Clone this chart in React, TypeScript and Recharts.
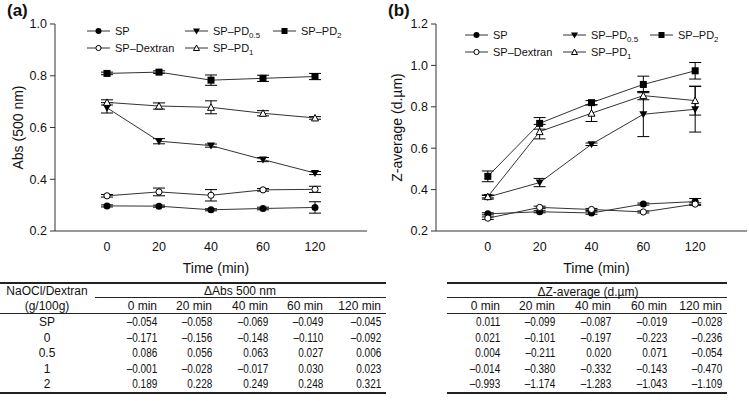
import { LineChart, Line, XAxis, YAxis, ErrorBar, Label, Legend } from 'recharts';

// time points (x positions are indices so the axis is evenly spaced)
const timeIdx = [0, 1, 2, 3, 4];
const timeLabels = ['0', '20', '40', '60', '120'];
const colHeads = ['0 min', '20 min', '40 min', '60 min', '120 min'];

// (a) Abs (500 nm)
const absSP = [0.297, 0.296, 0.282, 0.287, 0.291];
const absSPErr = [0.004, 0.004, 0.004, 0.005, 0.022];
const absDex = [0.336, 0.351, 0.338, 0.359, 0.361];
const absDexErr = [0.005, 0.015, 0.022, 0.005, 0.012];
const absPD05 = [0.676, 0.547, 0.53, 0.476, 0.424];
const absPD05Err = [0.02, 0.01, 0.006, 0.008, 0.006];
const absPD1 = [0.697, 0.683, 0.678, 0.655, 0.637];
const absPD1Err = [0.01, 0.012, 0.025, 0.01, 0.005];
const absPD2 = [0.809, 0.814, 0.783, 0.79, 0.797];
const absPD2Err = [0.005, 0.005, 0.02, 0.012, 0.012];

// (b) Z-average (d.um)
const zSP = [0.283, 0.293, 0.287, 0.33, 0.342];
const zSPErr = [0.005, 0.005, 0.006, 0.005, 0.015];
const zDex = [0.262, 0.314, 0.304, 0.292, 0.33];
const zDexErr = [0.006, 0.006, 0.005, 0.005, 0.006];
const zPD05 = [0.364, 0.434, 0.619, 0.764, 0.788];
const zPD05Err = [0.01, 0.02, 0.006, 0.108, 0.11];
const zPD1 = [0.366, 0.68, 0.769, 0.854, 0.83];
const zPD1Err = [0.006, 0.035, 0.04, 0.02, 0.07];
const zPD2 = [0.464, 0.72, 0.82, 0.908, 0.974];
const zPD2Err = [0.026, 0.028, 0.01, 0.04, 0.04];

// tables
const rowLabels = ['SP', '0', '0.5', '1', '2'];
const absDelta = [
  [-0.054, -0.058, -0.069, -0.049, -0.045],
  [-0.171, -0.156, -0.148, -0.11, -0.092],
  [0.086, 0.056, 0.063, 0.027, 0.006],
  [-0.001, -0.028, -0.017, 0.03, 0.023],
  [0.189, 0.228, 0.249, 0.248, 0.321],
];
const zDelta = [
  [0.011, -0.099, -0.087, -0.019, -0.028],
  [0.021, -0.101, -0.197, -0.223, -0.236],
  [0.004, -0.211, 0.02, 0.071, -0.054],
  [-0.014, -0.38, -0.332, -0.143, -0.47],
  [-0.993, -1.174, -1.283, -1.043, -1.109],
];

const FONT = '"Liberation Sans", Arial, sans-serif';
const INK = '#111';

const SERIES = [
  { key: 'sp', shape: 'circle', name: 'SP', sub: '' },
  { key: 'dex', shape: 'openCircle', name: 'SP–Dextran', sub: '' },
  { key: 'pd05', shape: 'triDown', name: 'SP–PD', sub: '0.5' },
  { key: 'pd1', shape: 'triUp', name: 'SP–PD', sub: '1' },
  { key: 'pd2', shape: 'square', name: 'SP–PD', sub: '2' },
];

const LEGEND_SPOTS: Record<string, [number, number]> = {
  sp: [0, 0],
  pd05: [1, 0],
  pd2: [2, 0],
  dex: [0, 1],
  pd1: [1, 1],
};

function buildRows(vals: Record<string, number[]>) {
  return timeIdx.map((x, i) => {
    const row: Record<string, number> = { x };
    Object.keys(vals).forEach((k) => {
      row[k] = vals[k][i];
    });
    return row;
  });
}

const absRows = buildRows({
  sp: absSP, spErr: absSPErr,
  dex: absDex, dexErr: absDexErr,
  pd05: absPD05, pd05Err: absPD05Err,
  pd1: absPD1, pd1Err: absPD1Err,
  pd2: absPD2, pd2Err: absPD2Err,
});

const zRows = buildRows({
  sp: zSP, spErr: zSPErr,
  dex: zDex, dexErr: zDexErr,
  pd05: zPD05, pd05Err: zPD05Err,
  pd1: zPD1, pd1Err: zPD1Err,
  pd2: zPD2, pd2Err: zPD2Err,
});

function Marker({ shape, cx, cy, size = 7 }: { shape: string; cx: number; cy: number; size?: number }) {
  const h = size / 2;
  switch (shape) {
    case 'circle':
      return <circle cx={cx} cy={cy} r={h} fill="#000" />;
    case 'openCircle':
      return <circle cx={cx} cy={cy} r={h - 0.4} fill="#fff" stroke="#000" strokeWidth={1} />;
    case 'triDown':
      return (
        <polygon
          points={`${cx - h - 0.5},${cy - h + 0.5} ${cx + h + 0.5},${cy - h + 0.5} ${cx},${cy + h + 0.5}`}
          fill="#000"
        />
      );
    case 'triUp':
      return (
        <polygon
          points={`${cx - h},${cy + h - 0.5} ${cx + h},${cy + h - 0.5} ${cx},${cy - h}`}
          fill="#fff"
          stroke="#000"
          strokeWidth={1}
        />
      );
    default:
      return <rect x={cx - h} y={cy - h} width={size} height={size} fill="#000" />;
  }
}

function LegendBlock({ colX, rowY }: { colX: number[]; rowY: number[] }) {
  return (
    <div style={{ position: 'relative', width: '100%', height: '100%', fontFamily: FONT }}>
      {SERIES.map((s) => {
        const [c, r] = LEGEND_SPOTS[s.key];
        return (
          <div
            key={s.key}
            style={{
              position: 'absolute',
              left: colX[c],
              top: rowY[r] - 8,
              height: 16,
              display: 'flex',
              alignItems: 'center',
              whiteSpace: 'nowrap',
              fontSize: 11,
              color: INK,
            }}
          >
            <svg width={23} height={10} style={{ display: 'block' }}>
              <line x1={0} y1={5} x2={23} y2={5} stroke="#333" strokeWidth={1} />
              <Marker shape={s.shape} cx={11.5} cy={5} size={6} />
            </svg>
            <span style={{ marginLeft: 5 }}>
              {s.name}
              {s.sub && (
                <span style={{ fontSize: 8, position: 'relative', top: 3 }}>{s.sub}</span>
              )}
            </span>
          </div>
        );
      })}
    </div>
  );
}

interface PanelProps {
  rows: Record<string, number>[];
  width: number;
  yAxisWidth: number;
  rightMargin: number;
  yDomain: [number, number];
  yTicks: number[];
  yLabel: string;
  yLabelDx: number;
  legendCols: number[];
  legendRows: number[];
}

function Panel(p: PanelProps) {
  return (
    <LineChart
      width={p.width}
      height={280}
      data={p.rows}
      margin={{ top: 24, right: p.rightMargin, left: 0, bottom: 0 }}
    >
      <XAxis
        type="number"
        dataKey="x"
        domain={[-1, 5]}
        ticks={timeIdx}
        tickFormatter={(i: number) => timeLabels[i]}
        tickLine={false}
        tickMargin={5}
        axisLine={{ stroke: '#333' }}
        tick={{ fill: INK, fontSize: 12.5, fontFamily: FONT }}
        height={49}
        allowDataOverflow
      >
        <Label
          value="Time (min)"
          position="insideBottom"
          offset={7}
          dx={5}
          fontSize={14}
          fill={INK}
          fontFamily={FONT}
        />
      </XAxis>
      <YAxis
        type="number"
        domain={p.yDomain}
        ticks={p.yTicks}
        tickFormatter={(v: number) => v.toFixed(1)}
        width={p.yAxisWidth}
        tickSize={5}
        tickMargin={3}
        axisLine={{ stroke: '#333' }}
        tickLine={{ stroke: '#333' }}
        tick={{ fill: INK, fontSize: 12.5, fontFamily: FONT }}
        allowDataOverflow
      >
        <Label
          value={p.yLabel}
          angle={-90}
          position="center"
          dx={p.yLabelDx}
          fontSize={14}
          fill={INK}
          fontFamily={FONT}
        />
      </YAxis>
      {SERIES.map((s) => (
        <Line
          key={s.key}
          type="linear"
          dataKey={s.key}
          stroke="#333"
          strokeWidth={1}
          isAnimationActive={false}
          dot={(d: any) => (
            <Marker key={`${s.key}-${d.index}`} shape={s.shape} cx={d.cx} cy={d.cy} />
          )}
          activeDot={false}
        >
          <ErrorBar dataKey={`${s.key}Err`} width={6} stroke="#000" strokeWidth={1} direction="y" />
        </Line>
      ))}
      <Legend
        verticalAlign="middle"
        layout="horizontal"
        wrapperStyle={{ left: 0, top: 0, width: p.width, height: 60 }}
        content={() => <LegendBlock colX={p.legendCols} rowY={p.legendRows} />}
      />
    </LineChart>
  );
}

const fmt = (v: number) => (v < 0 ? '–' : '') + Math.abs(v).toFixed(3);

function Txt({
  x,
  y,
  align,
  children,
  squeeze,
}: {
  x: number;
  y: number;
  align: 'center' | 'right';
  children: React.ReactNode;
  squeeze?: boolean;
}) {
  const w = 140;
  return (
    <div
      style={{
        position: 'absolute',
        left: align === 'center' ? x - w / 2 : x - w,
        top: y - 7,
        width: w,
        height: 14,
        lineHeight: '14px',
        fontSize: squeeze ? 12.5 : 12,
        textAlign: align,
        whiteSpace: 'nowrap',
        color: INK,
      }}
    >
      {squeeze ? (
        <span style={{ display: 'inline-block', transform: 'scaleX(0.8)', transformOrigin: 'right center' }}>
          {children}
        </span>
      ) : (
        children
      )}
    </div>
  );
}

function HLine({ x1, x2, y, w }: { x1: number; x2: number; y: number; w: number }) {
  return (
    <div
      style={{ position: 'absolute', left: x1, top: y - w / 2, width: x2 - x1, height: w, background: '#222' }}
    />
  );
}

const rowY = [322, 337.5, 353, 368.5, 384];

function AbsTable() {
  const cols = [157, 212, 268, 323, 381];
  return (
    <>
      <HLine x1={0} x2={386} y={283} w={1.5} />
      <HLine x1={95} x2={386} y={297.5} w={1} />
      <HLine x1={0} x2={386} y={313} w={1} />
      <HLine x1={0} x2={386} y={393} w={1.5} />
      <Txt x={47} y={291} align="center">NaOCl/Dextran</Txt>
      <Txt x={240} y={291} align="center">ΔAbs 500 nm</Txt>
      <Txt x={47} y={306} align="center">(g/100g)</Txt>
      {colHeads.map((h, i) => (
        <Txt key={h} x={cols[i]} y={306} align="right">{h}</Txt>
      ))}
      {rowLabels.map((lab, r) => (
        <Txt key={`l${r}`} x={47} y={rowY[r]} align="center">{lab}</Txt>
      ))}
      {absDelta.map((row, r) =>
        row.map((v, c) => (
          <Txt key={`a${r}-${c}`} x={cols[c]} y={rowY[r]} align="right" squeeze>
            {fmt(v)}
          </Txt>
        ))
      )}
    </>
  );
}

function ZTable() {
  const cols = [500, 555, 611, 667, 722];
  return (
    <>
      <HLine x1={447} x2={727} y={283} w={1.5} />
      <HLine x1={447} x2={727} y={297.5} w={1} />
      <HLine x1={447} x2={727} y={313} w={1} />
      <HLine x1={447} x2={727} y={393} w={1.5} />
      <Txt x={588} y={291.5} align="center">ΔZ-average (d.µm)</Txt>
      {colHeads.map((h, i) => (
        <Txt key={h} x={cols[i]} y={306} align="right">{h}</Txt>
      ))}
      {zDelta.map((row, r) =>
        row.map((v, c) => (
          <Txt key={`z${r}-${c}`} x={cols[c]} y={rowY[r]} align="right" squeeze>
            {fmt(v)}
          </Txt>
        ))
      )}
    </>
  );
}

export default function App() {
  return (
    <div
      style={{
        position: 'absolute',
        left: 0,
        top: 0,
        width: 749,
        height: 401,
        background: '#fff',
        fontFamily: FONT,
        overflow: 'hidden',
      }}
    >
      <div style={{ position: 'absolute', left: 0, top: 0 }}>
        <Panel
          rows={absRows}
          width={375}
          yAxisWidth={55}
          rightMargin={8}
          yDomain={[0.2, 1.0]}
          yTicks={[0.2, 0.4, 0.6, 0.8, 1.0]}
          yLabel="Abs (500 nm)"
          yLabelDx={-9.5}
          legendCols={[87, 185, 273]}
          legendRows={[31, 48]}
        />
      </div>
      <div style={{ position: 'absolute', left: 375, top: 0 }}>
        <Panel
          rows={zRows}
          width={374}
          yAxisWidth={61}
          rightMargin={2}
          yDomain={[0.2, 1.2]}
          yTicks={[0.2, 0.4, 0.6, 0.8, 1.0, 1.2]}
          yLabel="Z-average (d.µm)"
          yLabelDx={-8.5}
          legendCols={[90, 188, 275]}
          legendRows={[35, 52]}
        />
      </div>
      <div style={{ position: 'absolute', left: 7, top: 2, fontSize: 17, fontWeight: 700, lineHeight: '17px', color: INK }}>
        (a)
      </div>
      <div style={{ position: 'absolute', left: 388, top: 2, fontSize: 17, fontWeight: 700, lineHeight: '17px', color: INK }}>
        (b)
      </div>
      <AbsTable />
      <ZTable />
    </div>
  );
}
